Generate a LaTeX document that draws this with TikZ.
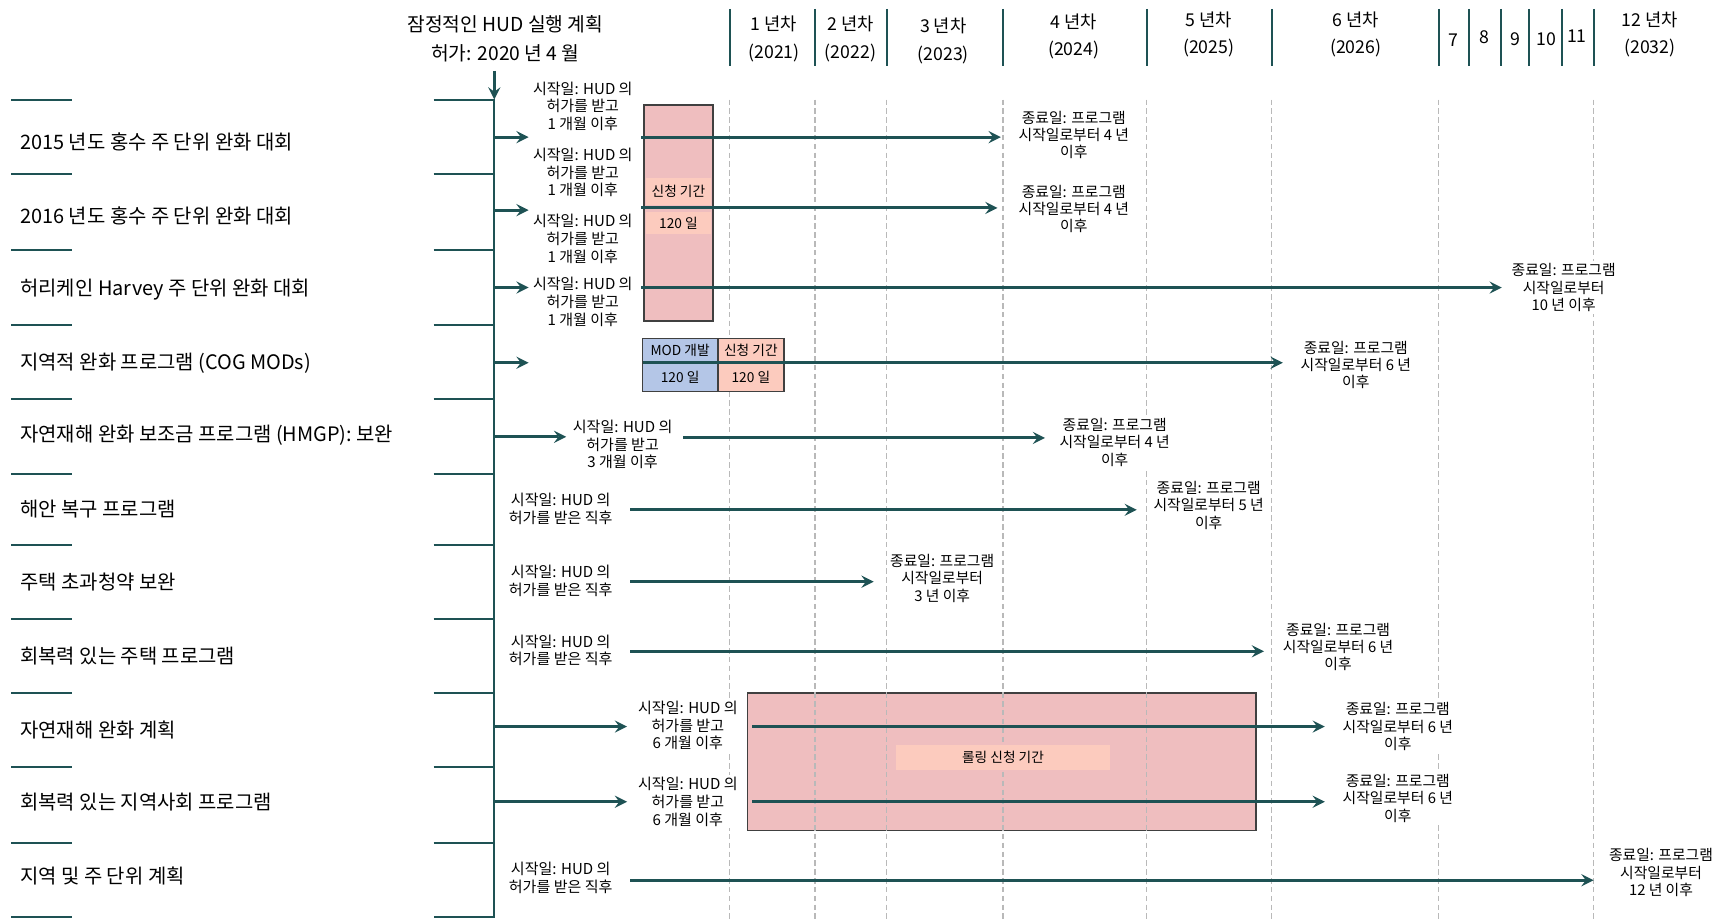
\documentclass[tikz,border=0pt]{standalone}
\usepackage{fontspec}
\setmainfont{Noto Sans CJK KR}
\definecolor{tealdark}{RGB}{30,82,84}
\definecolor{pinkbox}{RGB}{239,190,191}
\definecolor{salmon}{RGB}{252,203,190}
\definecolor{bluecell}{RGB}{180,198,231}

\begin{document}
\begin{tikzpicture}[x=0.5pt, y=-0.5pt, >=stealth,
    rowlabel/.style={anchor=west, inner sep=0pt, font=\fontsize{9}{10}\selectfont},
    headtext/.style={align=center, font=\fontsize{8.7}{13}\selectfont},
    yeartext/.style={align=center, font=\fontsize{8}{12.5}\selectfont},
    starttext/.style={align=center, fill=white, inner sep=1pt, font=\fontsize{6.8}{8}\selectfont},
    endtext/.style={align=center, fill=white, inner sep=1pt, font=\fontsize{6.7}{7.8}\selectfont},
    cell/.style={inner sep=0pt, font=\fontsize{6.2}{7}\selectfont},
    tealline/.style={draw=tealdark, line width=0.9pt},
    gridline/.style={draw=gray!55, line width=0.5pt, dash pattern=on 2.5pt off 1.5pt},
    boxline/.style={draw=black!75, line width=0.8pt},
    flow/.style={->, draw=tealdark, line width=1.4pt}]

    % Khung ảnh
    \useasboundingbox (0,0) rectangle (1568,833);

    % Tiêu đề kế hoạch
    \node[headtext] (H) at (457,35) {잠정적인 HUD 실행 계획\\허가: 2020 년 4 월};

    % Các cột năm ở trên cùng
    \foreach \x in {660,737,802,907,1037,1150,1301,1328,1357,1383,1412,1441}
        \draw[tealline] (\x,8) -- (\x,60);
    \node[yeartext] (Y1) at (700,35) {1 년차\\(2021)};
    \node[yeartext] (Y2) at (769,35) {2 년차\\(2022)};
    \node[yeartext] (Y3) at (853,37) {3 년차\\(2023)};
    \node[yeartext] (Y4) at (971,33) {4 년차\\(2024)};
    \node[yeartext] (Y5) at (1093,31) {5 년차\\(2025)};
    \node[yeartext] (Y6) at (1226,31) {6 년차\\(2026)};
    \node[yeartext] (Y7) at (1314,36) {7};
    \node[yeartext] (Y8) at (1342,34) {8};
    \node[yeartext] (Y9) at (1370,35) {9};
    \node[yeartext] (Y10) at (1398,35) {10};
    \node[yeartext] (Y11) at (1426,33) {11};
    \node[yeartext] (Y12) at (1492,31) {12 년차\\(2032)};

    % Trục dọc và các vạch ngăn hàng
    \coordinate (A0) at (447,64);
    \coordinate (T0) at (447,90);
    \coordinate (T1) at (447,829);
    \draw[flow] (A0) -- (T0);
    \draw[tealline] (392,90) -- (T0) -- (T1) -- (392,829);
    \foreach \y in {157,226,294,361,429,493,560,627,694,762}
        \draw[tealline] (392,\y) -- (447,\y);
    \foreach \y in {90,157,226,294,361,429,493,560,627,694,762,829}
        \draw[tealline] (10,\y) -- (65,\y);

    % Tên các chương trình
    \node[rowlabel] (L1) at (18,128) {2015 년도 홍수 주 단위 완화 대회};
    \node[rowlabel] (L2) at (18,195) {2016 년도 홍수 주 단위 완화 대회};
    \node[rowlabel] (L3) at (18,262) {허리케인 Harvey 주 단위 완화 대회};
    \node[rowlabel] (L4) at (18,328) {지역적 완화 프로그램 (COG MODs)};
    \node[rowlabel] (L5) at (18,394) {자연재해 완화 보조금 프로그램 (HMGP): 보완};
    \node[rowlabel] (L6) at (18,460) {해안 복구 프로그램};
    \node[rowlabel] (L7) at (18,526) {주택 초과청약 보완};
    \node[rowlabel] (L8) at (18,593) {회복력 있는 주택 프로그램};
    \node[rowlabel] (L9) at (18,660) {자연재해 완화 계획};
    \node[rowlabel] (L10) at (18,725) {회복력 있는 지역사회 프로그램};
    \node[rowlabel] (L11) at (18,792) {지역 및 주 단위 계획};

    % Khung nộp đơn liên tục (hàng 9-10), lưới năm đi xuyên qua
    \draw[boxline, fill=pinkbox] (676,627) rectangle (1136,751);
    \foreach \x in {660,737,802,907,1037,1150,1301,1441}
        \draw[gridline] (\x,90) -- (\x,833);
    \node[cell, fill=salmon, minimum width=97pt, minimum height=11pt] (K3) at (907,685) {롤링 신청 기간};

    % Ô thời hạn nộp đơn (hàng 1-3)
    \draw[boxline, fill=pinkbox] (582,95) rectangle (645,290);
    \node[cell, fill=salmon, minimum width=29.5pt, minimum height=12pt] (K1) at (613.5,173) {신청 기간};
    \node[cell, fill=salmon, minimum width=29.5pt, minimum height=10pt] (K2) at (613.5,202) {120 일};

    % Bảng MOD (hàng 4)
    \draw[boxline, fill=bluecell] (581,306) rectangle (649,354);
    \draw[boxline, fill=salmon] (649,306) rectangle (709,354);
    \node[cell] (M1) at (615,317) {MOD 개발};
    \node[cell] (M2) at (679,317) {신청 기간};
    \node[cell] (M3) at (615,341) {120 일};
    \node[cell] (M4) at (679,341) {120 일};

    % Ngày bắt đầu và ngày kết thúc
    \node[starttext] (S1) at (527,96) {시작일: HUD 의\\허가를 받고\\1 개월 이후};
    \node[starttext] (S2) at (527,156) {시작일: HUD 의\\허가를 받고\\1 개월 이후};
    \node[starttext] (S2b) at (527,216) {시작일: HUD 의\\허가를 받고\\1 개월 이후};
    \node[starttext] (S3) at (527,273) {시작일: HUD 의\\허가를 받고\\1 개월 이후};
    \node[endtext] (E1) at (971,122) {종료일: 프로그램\\시작일로부터 4 년\\이후};
    \node[endtext] (E2) at (971,189) {종료일: 프로그램\\시작일로부터 4 년\\이후};
    \node[endtext] (E3) at (1414,260) {종료일: 프로그램\\시작일로부터\\10 년 이후};
    \node[endtext] (E4) at (1226,330) {종료일: 프로그램\\시작일로부터 6 년\\이후};
    \node[starttext] (S5) at (563,402) {시작일: HUD 의\\허가를 받고\\3 개월 이후};
    \node[endtext] (E5) at (1008,400) {종료일: 프로그램\\시작일로부터 4 년\\이후};
    \node[starttext] (S6) at (507,460) {시작일: HUD 의\\허가를 받은 직후};
    \node[endtext] (E6) at (1093,457) {종료일: 프로그램\\시작일로부터 5 년\\이후};
    \node[starttext] (S7) at (507,525) {시작일: HUD 의\\허가를 받은 직후};
    \node[endtext] (E7) at (852,523) {종료일: 프로그램\\시작일로부터\\3 년 이후};
    \node[starttext] (S8) at (507,588) {시작일: HUD 의\\허가를 받은 직후};
    \node[endtext] (E8) at (1210,585) {종료일: 프로그램\\시작일로부터 6 년\\이후};
    \node[starttext] (S9) at (622,656) {시작일: HUD 의\\허가를 받고\\6 개월 이후};
    \node[endtext] (E9) at (1264,657) {종료일: 프로그램\\시작일로부터 6 년\\이후};
    \node[starttext] (S10) at (622,725) {시작일: HUD 의\\허가를 받고\\6 개월 이후};
    \node[endtext] (E10) at (1264,722) {종료일: 프로그램\\시작일로부터 6 년\\이후};
    \node[starttext] (S11) at (507,794) {시작일: HUD 의\\허가를 받은 직후};
    \node[endtext] (E11) at (1502,789) {종료일: 프로그램\\시작일로부터\\12 년 이후};

    % Các điểm đầu mũi tên
    \coordinate (a1) at (447,124); \coordinate (b1) at (478,124);
    \coordinate (p1) at (580,124); \coordinate (q1) at (905,124);
    \coordinate (a2) at (447,190); \coordinate (b2) at (478,190);
    \coordinate (p2) at (580,188); \coordinate (q2) at (902,188);
    \coordinate (a3) at (447,260); \coordinate (b3) at (478,260);
    \coordinate (p3) at (580,260); \coordinate (q3) at (1358,260);
    \coordinate (a4) at (447,328); \coordinate (b4) at (478,328);
    \coordinate (p4) at (581,328); \coordinate (q4) at (1160,328);
    \coordinate (a5) at (447,395); \coordinate (b5) at (512,395);
    \coordinate (p5) at (618,396); \coordinate (q5) at (945,396);
    \coordinate (p6) at (570,461); \coordinate (q6) at (1028,461);
    \coordinate (p7) at (570,526); \coordinate (q7) at (790,526);
    \coordinate (p8) at (570,589); \coordinate (q8) at (1143,589);
    \coordinate (a9) at (447,657); \coordinate (b9) at (567,657);
    \coordinate (p9) at (680,657); \coordinate (q9) at (1198,657);
    \coordinate (a10) at (447,725); \coordinate (b10) at (567,725);
    \coordinate (p10) at (680,725); \coordinate (q10) at (1198,725);
    \coordinate (p11) at (570,796); \coordinate (q11) at (1441,796);

    % Mũi tên từ trục và thời gian thực hiện
    \draw[flow] (a1) -- (b1);  \draw[flow] (p1) -- (q1);
    \draw[flow] (a2) -- (b2);  \draw[flow] (p2) -- (q2);
    \draw[flow] (a3) -- (b3);  \draw[flow] (p3) -- (q3);
    \draw[flow] (a4) -- (b4);  \draw[flow] (p4) -- (q4);
    \draw[flow] (a5) -- (b5);  \draw[flow] (p5) -- (q5);
    \draw[flow] (p6) -- (q6);
    \draw[flow] (p7) -- (q7);
    \draw[flow] (p8) -- (q8);
    \draw[flow] (a9) -- (b9);  \draw[flow] (p9) -- (q9);
    \draw[flow] (a10) -- (b10);  \draw[flow] (p10) -- (q10);
    \draw[flow] (p11) -- (q11);
\end{tikzpicture}
\end{document}
